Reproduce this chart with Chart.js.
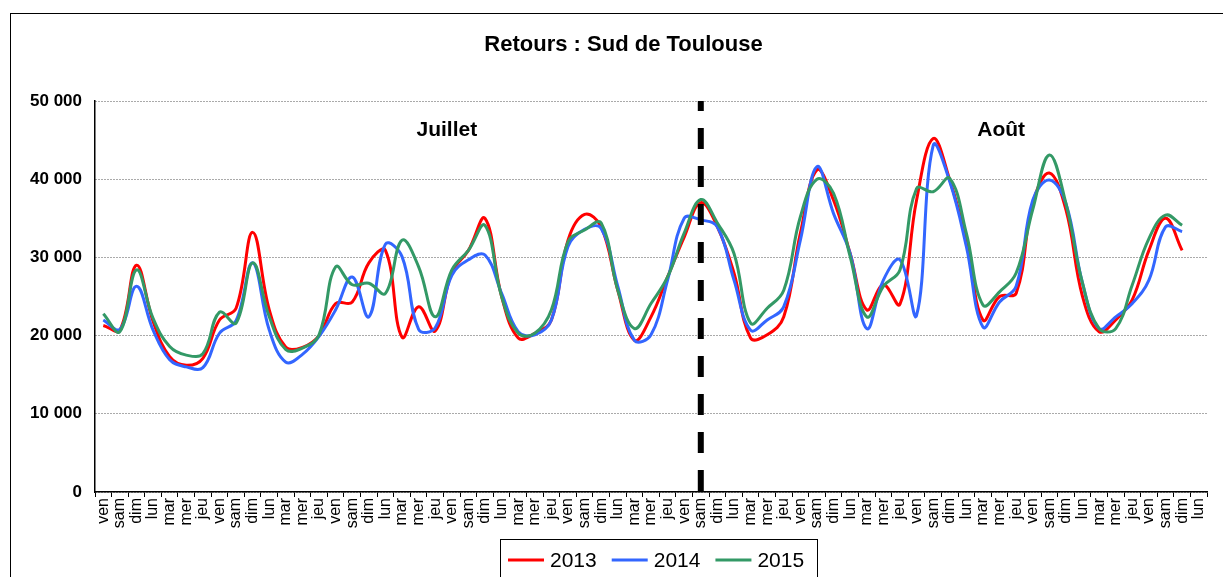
<!DOCTYPE html>
<html>
<head>
<meta charset="utf-8">
<script src="https://cdn.jsdelivr.net/npm/chart.js@4.4.0/dist/chart.umd.min.js"></script>
<style>
  html, body { margin: 0; padding: 0; background: #fff; }
  canvas { display: block; }
</style>
</head>
<body>
<canvas id="retoursChart" width="1223" height="577"></canvas>
<script>
// jours du 1er vendredi de juillet au lundi de fin août
var jours = ['ven','sam','dim','lun','mar','mer','jeu',
             'ven','sam','dim','lun','mar','mer','jeu',
             'ven','sam','dim','lun','mar','mer','jeu',
             'ven','sam','dim','lun','mar','mer','jeu',
             'ven','sam','dim','lun','mar','mer','jeu',
             'ven','sam','dim','lun','mar','mer','jeu',
             'ven','sam','dim','lun','mar','mer','jeu',
             'ven','sam','dim','lun','mar','mer','jeu',
             'ven','sam','dim','lun','mar','mer','jeu',
             'ven','sam','dim','lun'];

var v2013 = [21300, 20700, 29000, 21800, 17300, 16200, 17100,
             22000, 23500, 33200, 23300, 18500, 18500, 20000,
             24100, 24300, 29300, 30900, 19800, 23700, 20600,
             28100, 30900, 35000, 25000, 19700, 20300, 22000,
             32200, 35500, 33900, 25800, 19400, 22400, 27500,
             32600, 37000, 33900, 28000, 19700, 20100, 22400,
             33100, 41200, 37300, 30500, 23300, 26500, 24000,
             37300, 45200, 39900, 32200, 22000, 25000, 25400,
             36900, 40800, 36100, 25000, 20500, 22000, 24600,
             30900, 35000, 30900, null];

var v2014 = [22000, 20800, 26300, 20700, 16900, 16000, 15900,
             20300, 21900, 29300, 20700, 16600, 17600, 19900,
             23300, 27500, 22400, 31700, 30100, 20800, 21000,
             27700, 29700, 30300, 25400, 20500, 20100, 22000,
             31400, 33600, 33700, 26300, 19400, 20100, 27100,
             35000, 34800, 33900, 27100, 20700, 22000, 23700,
             32200, 41600, 35600, 30500, 20900, 27100, 29700,
             22600, 44300, 39700, 31400, 21100, 24300, 26300,
             37300, 39900, 36900, 26700, 20900, 22400, 24100,
             27100, 33900, 33300, null];

var v2015 = [22800, 20500, 28400, 22200, 18600, 17500, 17700,
             23000, 21600, 29300, 22400, 18200, 18400, 20100,
             28800, 26500, 26700, 25400, 32200, 28800, 22400,
             28400, 30900, 34100, 25000, 20300, 20300, 23300,
             32000, 33500, 34400, 25800, 20900, 24100, 27500,
             33100, 37400, 34400, 30500, 21600, 23500, 25800,
             35200, 40000, 38200, 30100, 22400, 26300, 28400,
             38800, 38400, 40100, 33100, 23900, 25600, 28000,
             36100, 43100, 36900, 26700, 20900, 20900, 26500,
             32400, 35400, 34100, null];

var annees = ['2013', '2014', '2015'];
var couleurs = ['#FF0000', '#3366FF', '#339966'];
var yTicks = [0, 10000, 20000, 30000, 40000, 50000];

var police = "'Liberation Sans', Arial, sans-serif";
Chart.defaults.font.family = police;
Chart.defaults.color = '#000';

function milliers(v) {
    return String(v).replace(/\B(?=(\d{3})+(?!\d))/g, ' ');
}

var decor = {
    id: 'decor',
    beforeDraw: function(chart) {
        var c = chart.ctx;
        c.save();
        c.fillStyle = '#fff';
        c.fillRect(0, 0, chart.width, chart.height);
        c.strokeStyle = '#000';
        c.lineWidth = 1;
        c.strokeRect(10.5, 13.5, chart.width + 20, chart.height + 20);
        c.restore();
    },
    afterDatasetsDraw: function(chart) {
        // séparation juillet / août
        var c = chart.ctx, a = chart.chartArea;
        var x = chart.scales.x.getPixelForValue(36);
        c.save();
        c.strokeStyle = '#000';
        c.lineWidth = 6;
        c.setLineDash([21, 17]);
        c.lineDashOffset = 11;
        c.beginPath();
        c.moveTo(x, a.top);
        c.lineTo(x, a.bottom);
        c.stroke();
        c.restore();
    },
    afterDraw: function(chart) {
        var c = chart.ctx;
        var sx = chart.scales.x, sy = chart.scales.y;
        c.save();
        c.fillStyle = '#000';
        c.textAlign = 'center';
        c.textBaseline = 'middle';
        c.font = 'bold 22px ' + police;
        c.fillText('Retours : Sud de Toulouse', 623.5, 45);

        c.font = 'bold 21px ' + police;
        c.fillText('Juillet', sx.getPixelForValue(20.7), sy.getPixelForValue(46300));
        c.fillText('Août', sx.getPixelForValue(54.1), sy.getPixelForValue(46300));

        // légende encadrée
        c.strokeStyle = '#000';
        c.lineWidth = 1;
        c.strokeRect(500.5, 539.5, 317, 60);
        c.font = '21px ' + police;
        c.textAlign = 'left';
        var x = 508, y = 560;
        chart.data.datasets.forEach(function(ds) {
            c.strokeStyle = ds.borderColor;
            c.lineWidth = 3;
            c.beginPath();
            c.moveTo(x, y);
            c.lineTo(x + 36, y);
            c.stroke();
            c.fillStyle = '#000';
            c.fillText(ds.label, x + 42, y + 1);
            x += 42 + c.measureText(ds.label).width + 15;
        });
        c.restore();
    }
};

var series = [v2013, v2014, v2015];
var datasets = series.map(function(vals, i) {
    return {
        label: annees[i],
        data: vals,
        borderColor: couleurs[i],
        backgroundColor: couleurs[i],
        borderWidth: 3,
        pointRadius: 0,
        tension: 0.4,
        fill: false,
        order: 3 - i
    };
});

var ctx = document.getElementById('retoursChart').getContext('2d');
var retoursChart = new Chart(ctx, {
    type: 'line',
    data: { labels: jours, datasets: datasets },
    options: {
        responsive: false,
        animation: false,
        devicePixelRatio: 1,
        layout: { padding: { top: 101, right: 16, bottom: 0, left: 0 } },
        plugins: {
            legend: { display: false },
            title: { display: false },
            tooltip: { enabled: false }
        },
        scales: {
            x: {
                type: 'category',
                offset: true,
                afterFit: function(s) { s.height = 85; },
                grid: {
                    offset: true,
                    drawOnChartArea: false,
                    drawTicks: true,
                    tickLength: 5,
                    color: '#000'
                },
                border: { color: '#000', width: 1.5 },
                ticks: {
                    autoSkip: false,
                    minRotation: 90,
                    maxRotation: 90,
                    padding: 1,
                    font: { size: 16 },
                    color: '#000'
                }
            },
            y: {
                min: 0,
                max: 50000,
                afterFit: function(s) { s.width = 95; },
                afterBuildTicks: function(s) {
                    s.ticks = yTicks.map(function(v) { return { value: v }; });
                },
                grid: { color: '#555', lineWidth: 1, drawTicks: false },
                border: { color: '#000', width: 1.5, dash: [1, 2] },
                ticks: {
                    padding: 13,
                    font: { size: 17, weight: 'bold' },
                    color: '#000',
                    callback: function(v) { return milliers(v); }
                }
            }
        }
    },
    plugins: [decor]
});
</script>
</body>
</html>
